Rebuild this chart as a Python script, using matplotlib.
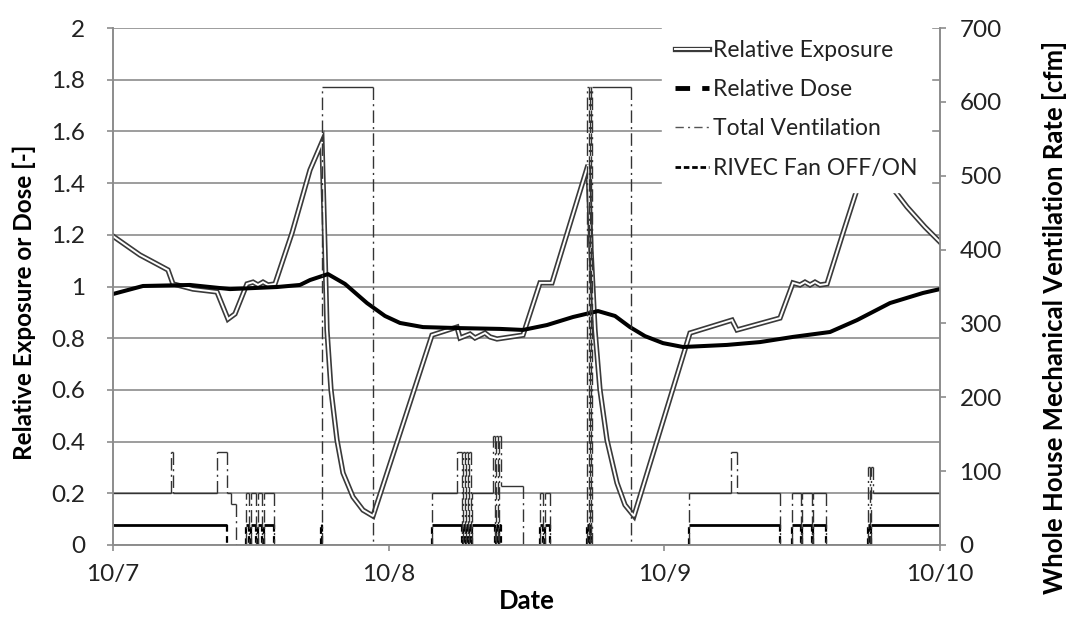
import numpy as np
import matplotlib
matplotlib.use('Agg')
import matplotlib.pyplot as plt
from matplotlib.lines import Line2D
from matplotlib.legend_handler import HandlerTuple

plt.rcParams['font.family'] = ['Lato', 'DejaVu Sans']

# time in days from 10/7 00:00
exp_t = [0, 0.0508, 0.0979, 0.1524, 0.1995, 0.2177, 0.2902, 0.3773, 0.4172, 0.4426,
         0.4861, 0.5079, 0.5260, 0.5442, 0.5623, 0.5877, 0.6494, 0.6784, 0.7147, 0.7582,
         0.7691, 0.7763, 0.7909, 0.8126, 0.8344, 0.8706, 0.9069, 0.9432, 1.1572, 1.2479,
         1.2588, 1.2950, 1.3132, 1.3494, 1.3676, 1.3930, 1.4873, 1.5490, 1.5925, 1.7231,
         1.7340, 1.7485, 1.7666, 1.7920, 1.8283, 1.8573, 1.8899, 2.0931, 2.2455, 2.2636,
         2.4196, 2.4667, 2.4921, 2.5102, 2.5284, 2.5465, 2.5646, 2.5900, 2.6481, 2.7098,
         2.7533, 2.7823, 2.8113, 2.8802, 2.9455, 3.0]
exposure = [1.195, 1.157, 1.122, 1.091, 1.064, 1.010, 0.990, 0.979, 0.874, 0.894,
            1.010, 1.017, 1.006, 1.017, 1.006, 1.010, 1.207, 1.315, 1.451, 1.559,
            1.141, 0.832, 0.600, 0.406, 0.279, 0.186, 0.135, 0.112, 0.812, 0.843,
            0.801, 0.816, 0.801, 0.820, 0.805, 0.797, 0.812, 1.014, 1.014, 1.470,
            1.141, 0.832, 0.600, 0.406, 0.240, 0.155, 0.112, 0.820, 0.870, 0.832,
            0.878, 1.014, 1.006, 1.017, 1.006, 1.017, 1.006, 1.010, 1.207, 1.412,
            1.547, 1.480, 1.404, 1.308, 1.230, 1.172]

dose_t = [0, 0.1088, 0.2793, 0.4244, 0.5949, 0.6784, 0.7147, 0.7799, 0.8416, 0.9214,
          0.9867, 1.0411, 1.1245, 1.2588, 1.4038, 1.4873, 1.5744, 1.6687, 1.7594, 1.8211,
          1.8754, 1.9299, 1.9952, 2.0677, 2.2273, 2.3470, 2.4667, 2.6010, 2.6989, 2.8186,
          2.9383, 3.0]
dose = [0.971, 1.002, 1.006, 0.990, 0.998, 1.006, 1.025, 1.048, 1.010, 0.936,
        0.886, 0.859, 0.843, 0.839, 0.836, 0.832, 0.851, 0.882, 0.905, 0.886,
        0.843, 0.808, 0.781, 0.766, 0.774, 0.785, 0.805, 0.824, 0.870, 0.936,
        0.975, 0.990]

# total ventilation [cfm], value holds from each time to the next
vent_t = [0, 0.210, 0.219, 0.377, 0.4135, 0.428, 0.446, 0.4825, 0.495, 0.5006,
          0.519, 0.526, 0.5405, 0.548, 0.584, 0.760, 0.943, 1.157, 1.247, 1.266,
          1.270, 1.277, 1.281, 1.288, 1.291, 1.299, 1.302, 1.378, 1.386, 1.389,
          1.397, 1.400, 1.4075, 1.487, 1.549, 1.560, 1.567, 1.585, 1.719, 1.725,
          1.729, 1.734, 1.738, 1.879, 2.089, 2.242, 2.264, 2.4196, 2.463, 2.495,
          2.501, 2.536, 2.541, 2.585, 2.739, 2.746, 2.750, 2.757]
vent_cfm = [70, 126, 70, 126, 70, 56, 0, 70, 0, 70,
            0, 70, 0, 70, 0, 620, 0, 70, 126, 0,
            126, 0, 126, 0, 126, 0, 70, 147, 0, 147,
            0, 147, 80, 0, 70, 0, 70, 0, 620, 0,
            620, 0, 620, 0, 70, 126, 70, 0, 70, 0,
            70, 0, 70, 0, 105, 0, 105, 70]

# RIVEC fan state (0 = off, 1 = on)
fan_t = [0, 0.415, 0.4825, 0.495, 0.5006, 0.519, 0.526, 0.5405, 0.548, 0.584,
         0.7545, 0.7585, 1.157, 1.266, 1.270, 1.277, 1.281, 1.288, 1.291, 1.299,
         1.302, 1.386, 1.389, 1.397, 1.400, 1.4075, 1.549, 1.560, 1.567, 1.585,
         1.719, 1.725, 1.729, 1.734, 2.089, 2.4196, 2.463, 2.495, 2.501, 2.536,
         2.541, 2.585, 2.739, 2.746, 2.750]
fan_on = [1, 0, 1, 0, 1, 0, 1, 0, 1, 0,
          1, 0, 1, 0, 1, 0, 1, 0, 1, 0,
          1, 0, 1, 0, 1, 0, 1, 0, 1, 0,
          1, 0, 1, 0, 1, 0, 1, 0, 1, 0,
          1, 0, 1, 0, 1]
fan_level = 0.078

date_labels = ['10/7', '10/8', '10/9', '10/10']

grey = '#8c8c8c'


def draw_steps(ax, t, v, color, lw, vstyle, vlw):
    t = np.asarray(t, float)
    v = np.asarray(v, float)
    t_end = np.append(t[1:], 3.0)
    ax.hlines(v, t, t_end, colors=color, linewidth=lw)
    ax.vlines(t[1:], v[:-1], v[1:], colors=color, linewidth=vlw, linestyles=[vstyle])


fig = plt.figure(figsize=(10.78, 6.27), dpi=100)
ax = fig.add_axes([0.1048, 0.1308, 0.7672, 0.8245])
ax2 = ax.twinx()

ax.set_xlim(0, 3)
ax.set_ylim(0, 2)
ax2.set_ylim(0, 700)

ax.set_yticks(np.arange(0, 2.01, 0.2))
ax.set_yticklabels(['0', '0.2', '0.4', '0.6', '0.8', '1', '1.2', '1.4', '1.6', '1.8', '2'])
ax2.set_yticks(np.arange(0, 701, 100))
ax.set_xticks([0, 1, 2, 3])
ax.set_xticklabels(date_labels)

ax.grid(axis='y', color=grey, linewidth=1.2)
ax.set_axisbelow(True)
for a in (ax, ax2):
    for s in a.spines.values():
        s.set_color(grey)
        s.set_linewidth(1.2)
    a.spines['top'].set_visible(False)
    a.tick_params(colors=grey, labelcolor='#222222', labelsize=17.5, length=4, width=1.2,
                  pad=10)
ax.tick_params(axis='y', pad=16)

# relative exposure (double line)
ax.plot(exp_t, exposure, color='#3a3a3a', lw=3.8, solid_joinstyle='miter', zorder=3)
ax.plot(exp_t, exposure, color='white', lw=1.4, solid_joinstyle='miter', zorder=3)
# relative dose
ax.plot(dose_t, dose, color='black', lw=2.9, zorder=4)
# RIVEC fan
draw_steps(ax, fan_t, np.array(fan_on) * fan_level, 'black', 2.0, (0, (3, 2)), 1.6)
# total ventilation
draw_steps(ax2, vent_t, vent_cfm, '#333333', 1.0, (0, (9, 3, 1.5, 3)), 1.0)

ax.set_xlabel('Date', fontsize=18.5, fontweight='bold')
ax.xaxis.set_label_coords(0.5, -0.086)
ax.set_ylabel('Relative Exposure or Dose [-]', fontsize=17.5, fontweight='bold')
ax.yaxis.set_label_coords(-0.093, 0.47)
ax2.set_ylabel('Whole House Mechanical Ventilation Rate [cfm]', fontsize=18.5,
               fontweight='bold')
ax2.yaxis.set_label_coords(1.123, 0.44)

h_exp = (Line2D([], [], color='#3a3a3a', lw=3.8), Line2D([], [], color='white', lw=1.4))
h_dose = Line2D([], [], color='black', lw=3.5, linestyle=(0, (3, 2.5)))
h_vent = Line2D([], [], color='#555555', lw=1.0, linestyle=(0, (6, 3, 1.5, 3)))
h_fan = Line2D([], [], color='black', lw=2.0, linestyle=(0, (2, 1)))
leg = ax2.legend([h_exp, h_dose, h_vent, h_fan],
                 ['Relative Exposure', 'Relative Dose', 'Total Ventilation', 'RIVEC Fan OFF/ON'],
                 handler_map={tuple: HandlerTuple(ndivide=1)},
                 loc='upper left', bbox_to_anchor=(0.6635, 1.003), borderaxespad=0,
                 frameon=True, fontsize=16.5, handlelength=1.5, handletextpad=0.15,
                 labelspacing=0.8, borderpad=0.58, fancybox=False)
leg.get_frame().set_edgecolor('white')
leg.get_frame().set_facecolor('white')
leg.get_frame().set_alpha(1)
for txt in leg.get_texts():
    txt.set_color('#222222')

fig.savefig('out.png', dpi=100)
